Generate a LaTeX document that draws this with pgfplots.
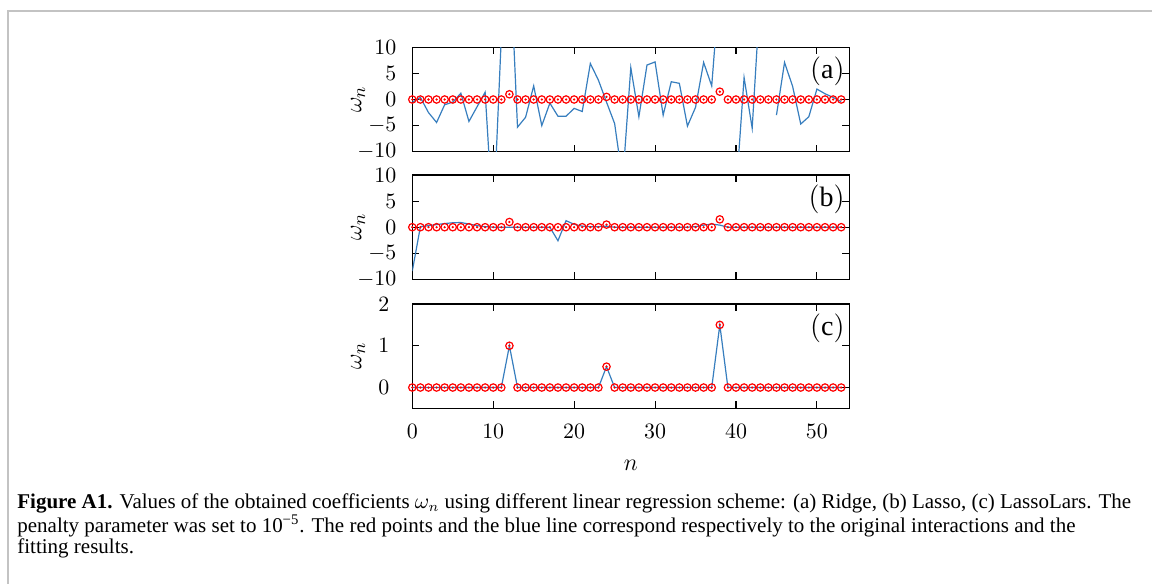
\documentclass[border=0pt]{standalone}
\usepackage{fontspec}
\setmainfont{Liberation Serif}
\usepackage{pgfplots}
\pgfplotsset{compat=1.18}
\usepackage{pgfplotstable}
\definecolor{fitblue}{RGB}{55,126,190}
\definecolor{framegray}{RGB}{195,195,195}

% n, original interactions, Ridge fit, Lasso fit, LassoLars fit
\pgfplotstableread{
n  orig  ridge  lasso  lars
0  0     -0.5   -8.4   0
1  0     0.4    0.1    0
2  0     -2.5   0.3    0
3  0     -4.4   0.5    0
4  0     -1.0   0.7    0
5  0     -0.5   0.85   0
6  0     1.2    0.9    0
7  0     -4.2   0.6    0
8  0     -1.4   0.3    0
9  0     1.4    0.1    0
10 0     -24    0      0
11 0     12     0      0
12 1     30     0      1
13 0     -5.3   0      0
14 0     -3.4   0      0
15 0     2.6    0      0
16 0     -5.0   0      0
17 0     -0.7   0      0
18 0     -3.2   -2.6   0
19 0     -3.2   1.25   0
20 0     -1.7   0.55   0
21 0     -2.3   0.2    0
22 0     6.9    0.1    0
23 0     3.7    0.1    0
24 0.5   -0.5   0.2    0.5
25 0     -4.6   0      0
26 0     -15.5  0      0
27 0     6.1    0      0
28 0     -3.3   0      0
29 0     6.6    0      0
30 0     7.2    0      0
31 0     -3.0   0      0
32 0     3.4    0      0
33 0     3.1    0      0
34 0     -5.1   0      0
35 0     -1.5   0.1    0
36 0     7.1    0.4    0
37 0     2.6    0.6    0
38 1.5   22.6   0.4    1.5
39 0     nan    0      0
40 0     -18    0      0
41 0     4.2    0      0
42 0     -5.5   0      0
43 0     20.3   0      0
44 0     nan    0      0
45 0     -3.0   0      0
46 0     7.1    0      0
47 0     2.5    0      0
48 0     -4.7   0      0
49 0     -3.3   0      0
50 0     2.0    0      0
51 0     1.1    0      0
52 0     0.4    0      0
53 0     -0.4   0      0
}\coeffs

\pgfplotsset{
  myax/.style={
    scale only axis, width=218.5pt, height=52.2pt,
    anchor=north west,
    xmin=0, xmax=54, xtick={0,10,20,30,40,50},
    tick align=inside, major tick length=3.5pt,
    axis line style={line width=0.7pt},
    every tick/.style={black, line width=0.55pt},
    tick label style={font=\fontsize{11}{13}\selectfont},
    unbounded coords=jump,
    ylabel={$\omega_n$},
    ylabel style={at={(axis description cs:-0.124,0.5)}, anchor=center, font=\fontsize{13}{15}\selectfont},
    yticklabel style={xshift=-4.5pt},
  },
  fitline/.style={fitblue, line width=0.6pt, no marks},
  origc/.style={red, only marks, mark=o, mark size=1.85pt, mark options={line width=0.6pt}},
  origd/.style={red, only marks, mark=*, mark size=0.35pt},
}
\tikzset{plab/.style={anchor=east, inner sep=0pt, font=\fontsize{14}{16}\selectfont}}

\begin{document}
\begin{tikzpicture}
\useasboundingbox (0pt,0pt) rectangle (576pt,-292pt);
\draw[framegray, line width=0.9pt] (3.85pt,-292pt) -- (3.85pt,-5.35pt) -- (576pt,-5.35pt);

% (a) Ridge
\begin{axis}[myax, at={(206.15pt,-23.65pt)}, ymin=-10, ymax=10, ytick={-10,-5,0,5,10}, xticklabels={}]
\addplot[fitline] table[x=n, y=ridge] {\coeffs};
\addplot[origc] table[x=n, y=orig] {\coeffs};
\addplot[origd] table[x=n, y=orig] {\coeffs};
\node[plab] at (rel axis cs:0.99,0.77) {$(\mathrm{a})$};
\end{axis}

% (b) Lasso
\begin{axis}[myax, at={(206.15pt,-87.5pt)}, ymin=-10, ymax=10, ytick={-10,-5,0,5,10}, xticklabels={}]
\addplot[fitline] table[x=n, y=lasso] {\coeffs};
\addplot[origc] table[x=n, y=orig] {\coeffs};
\addplot[origd] table[x=n, y=orig] {\coeffs};
\node[plab] at (rel axis cs:0.99,0.77) {$(\mathrm{b})$};
\end{axis}

% (c) LassoLars
\begin{axis}[myax, at={(206.15pt,-152pt)}, ymin=-0.5, ymax=2, ytick={0,1,2},
  yticklabel style={xshift=-3.5pt},
  xticklabel style={yshift=-4.5pt},
  xlabel={$n$},
  xlabel style={at={(axis description cs:0.5,-0.546)}, anchor=center, font=\fontsize{13}{15}\selectfont}]
\addplot[fitline] table[x=n, y=lars] {\coeffs};
\addplot[origc] table[x=n, y=orig] {\coeffs};
\addplot[origd] table[x=n, y=orig] {\coeffs};
\node[plab] at (rel axis cs:0.99,0.77) {$(\mathrm{c})$};
\end{axis}

% caption
\node[anchor=north west, inner sep=0pt, align=left, font=\fontsize{10.5}{10.5}\selectfont] at (8.5pt,-246.5pt)
{\textbf{Figure A1.} Values of the obtained coefficients $\omega_n$ using different linear regression scheme: (a) Ridge, (b) Lasso, (c) LassoLars. The\\
penalty parameter was set to 10\textsuperscript{−5}. The red points and the blue line correspond respectively to the original interactions and the\\
fitting results.};
\end{tikzpicture}
\end{document}
